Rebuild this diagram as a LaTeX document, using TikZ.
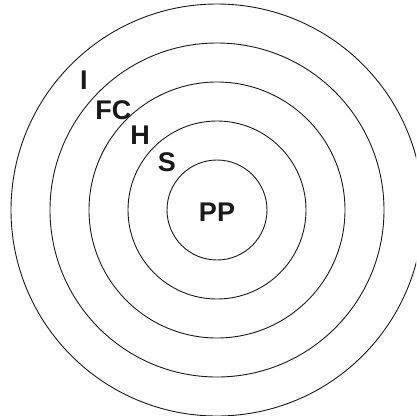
\documentclass[tikz,border=0pt]{standalone}
\usepackage{fontspec}
\setmainfont{Liberation Sans}
\begin{document}
\begin{tikzpicture}[x=1pt,y=-1pt,
  ring/.style={draw=black!90,line width=0.9pt},
  lbl/.style={font=\fontsize{27}{27}\selectfont\bfseries,text=black!90,inner sep=0pt,anchor=center}]
\useasboundingbox (0,0) rectangle (416,416);
\clip (0,0) rectangle (416,416);
\coordinate (c) at (217,210);
\draw[ring] (c) circle[radius=50];
\draw[ring] (c) circle[radius=89];
\draw[ring] (c) circle[radius=128];
\draw[ring] (c) circle[radius=167];
\draw[ring] (c) circle[radius=206];
\node[lbl] (i) at (84,80) {I};
\node[lbl] (fc) at (113.3,110) {FC};
\node[lbl] (h) at (140,135.2) {H};
\node[lbl] (s) at (167,162.7) {S};
\node[lbl] (pp) at (217,212.5) {PP};
\end{tikzpicture}
\end{document}
